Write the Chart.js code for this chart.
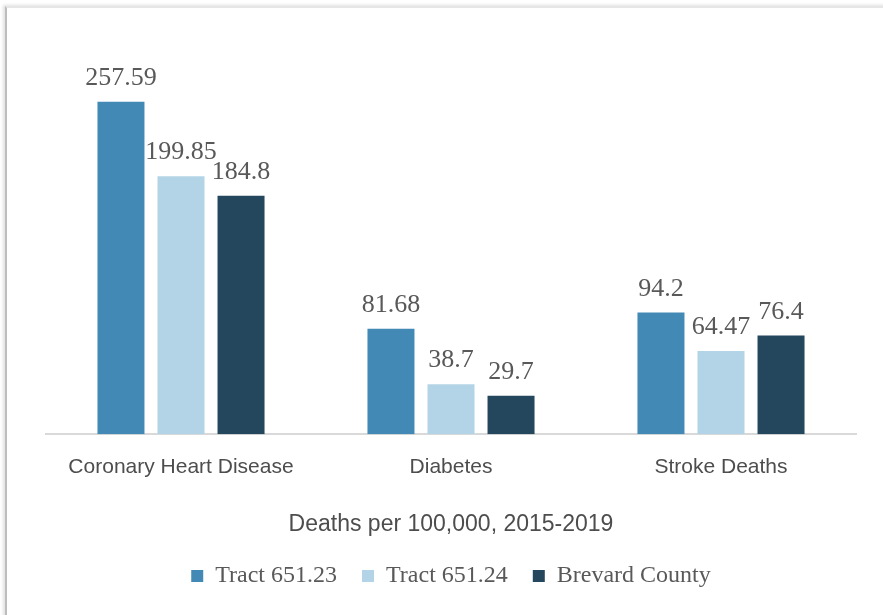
<!DOCTYPE html>
<html>
<head>
<meta charset="utf-8">
<script src="https://cdn.jsdelivr.net/npm/chart.js@4.4.1/dist/chart.umd.min.js"></script>
<style>
  html, body { margin: 0; padding: 0; background: #ffffff; overflow: hidden; }
  body { width: 883px; height: 615px; position: relative; }
  #frame {
    position: absolute; left: 5px; top: 6px; width: 900px; height: 640px;
    border-left: 2px solid #bdbdbd; border-top: 2px solid #e6e6e6;
    box-shadow: -2px -1px 3px rgba(0,0,0,0.12);
  }
  #wrap { position: absolute; left: 0; top: 0; width: 883px; height: 615px; }
</style>
</head>
<body>
<div id="frame"></div>
<div id="wrap"><canvas id="c" width="883" height="615"></canvas></div>
<script>
const categories = ["Coronary Heart Disease", "Diabetes", "Stroke Deaths"];
const seriesNames = ["Tract 651.23", "Tract 651.24", "Brevard County"];
const tract65123 = [257.59, 81.68, 94.2];
const tract65124 = [199.85, 38.7, 64.47];
const brevardCounty = [184.8, 29.7, 76.4];
const axisTitle = "Deaths per 100,000, 2015-2019";

const colors = ["#4389B6", "#B2D4E6", "#24475E"];
const seriesValues = [tract65123, tract65124, brevardCounty];

const valueLabels = {
  id: "valueLabels",
  afterDatasetsDraw(chart) {
    const ctx = chart.ctx;
    ctx.save();
    ctx.font = "26px 'Liberation Serif', serif";
    ctx.fillStyle = "#595959";
    ctx.textAlign = "center";
    ctx.textBaseline = "alphabetic";
    chart.data.datasets.forEach((ds, di) => {
      const meta = chart.getDatasetMeta(di);
      meta.data.forEach((el, i) => {
        ctx.fillText(String(ds.data[i]), el.x, el.y - 17);
      });
    });
    ctx.restore();
  }
};

new Chart(document.getElementById("c"), {
  type: "bar",
  data: {
    labels: categories,
    datasets: seriesNames.map((n, i) => ({
      label: n,
      data: seriesValues[i],
      backgroundColor: colors[i],
      borderWidth: 0,
      categoryPercentage: 0.667,
      barPercentage: 0.783
    }))
  },
  options: {
    responsive: false,
    animation: false,
    devicePixelRatio: 1,
    layout: { padding: { left: 46, right: 27, top: 47, bottom: 17 } },
    scales: {
      x: {
        grid: { display: false, drawTicks: false },
        border: { display: true, color: "#d9d9d9", width: 2 },
        ticks: { color: "#4d4d4d", font: { family: "'Liberation Sans', sans-serif", size: 21 }, padding: 20 },
        title: { display: true, text: axisTitle, color: "#4d4d4d",
                 font: { family: "'Liberation Sans', sans-serif", size: 23 }, padding: { top: 11, bottom: 1 } }
      },
      y: { display: false, min: 0, max: 300 }
    },
    plugins: {
      legend: {
        position: "bottom",
        labels: {
          boxWidth: 12, boxHeight: 12, padding: 25, color: "#595959",
          font: { family: "'Liberation Serif', serif", size: 24 }
        }
      },
      tooltip: { enabled: false }
    }
  },
  plugins: [valueLabels]
});
</script>
</body>
</html>
